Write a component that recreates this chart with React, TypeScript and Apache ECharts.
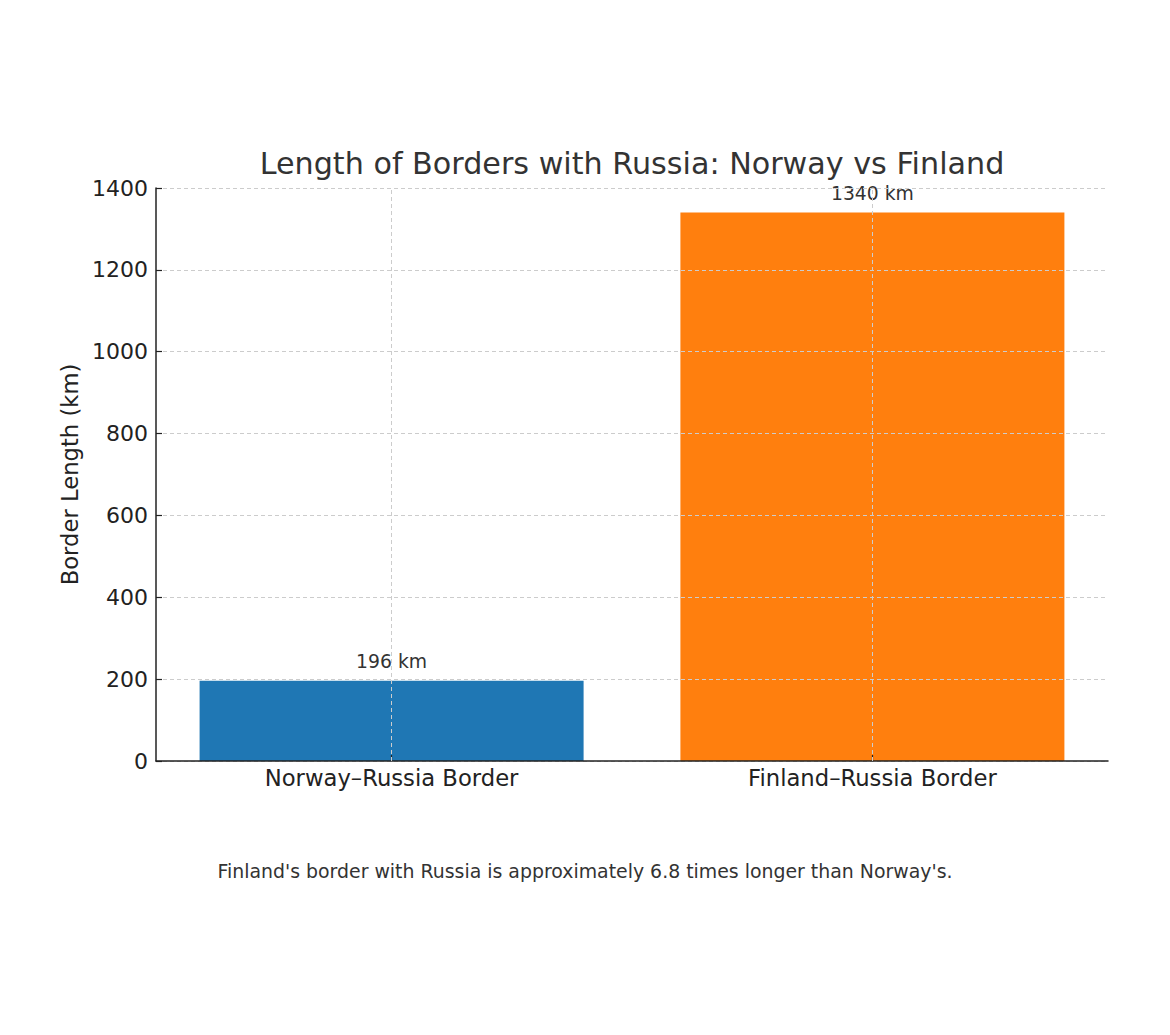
import React, { useEffect, useRef } from "react";
import * as echarts from "echarts";

const categories = ["Norway–Russia Border", "Finland–Russia Border"];
const categoryPositions = [0, 1];
const borderLengths = [196, 1340];
const barColors = ["#1f77b4", "#ff7f0e"];
const yTicks = [0, 200, 400, 600, 800, 1000, 1200, 1400];
const titleText = "Length of Borders with Russia: Norway vs Finland";
const yAxisName = "Border Length (km)";
const footnote = "Finland's border with Russia is approximately 6.8 times longer than Norway's.";

const FONT = "DejaVu Sans";

export default function App() {
  const ref = useRef<HTMLDivElement>(null);
  useEffect(() => {
    document.body.style.margin = "0";
    const chart = echarts.init(ref.current!, null, { renderer: "svg" });
    const grid = "#cccccc";
    chart.setOption({
      animation: false,
      backgroundColor: "#ffffff",
      textStyle: { fontFamily: FONT },
      title: {
        text: titleText,
        left: 632,
        top: 148,
        textAlign: "center",
        padding: 0,
        textStyle: { fontFamily: FONT, fontSize: 30.2, fontWeight: "normal", color: "#333333" },
      },
      grid: { left: 156, right: 62, top: 188, bottom: 274, containLabel: false },
      xAxis: {
        type: "value",
        min: -0.49,
        max: 1.49,
        z: 3,
        axisLine: { show: true, onZero: false, lineStyle: { color: "#222222", width: 1.5 } },
        axisTick: {
          show: true,
          inside: true,
          length: 6,
          customValues: categoryPositions,
          lineStyle: { color: "#222222", width: 1.2 },
        },
        axisLabel: {
          fontFamily: FONT,
          fontSize: 22.7,
          color: "#222222",
          margin: 5,
          customValues: categoryPositions,
          formatter: (v: number) => categories[Math.round(v)] ?? "",
        },
        splitLine: { show: false },
      },
      yAxis: {
        type: "value",
        min: 0,
        max: yTicks[yTicks.length - 1],
        interval: 200,
        z: 3,
        name: yAxisName,
        nameLocation: "middle",
        nameGap: 70,
        nameTextStyle: { fontFamily: FONT, fontSize: 22.7, color: "#222222" },
        axisLine: { show: true, onZero: false, lineStyle: { color: "#222222", width: 1.5 } },
        axisTick: { show: true, inside: true, length: 6, lineStyle: { color: "#222222", width: 1.2 } },
        axisLabel: {
          fontFamily: FONT,
          fontSize: 22,
          color: "#222222",
          margin: 8,
          formatter: (v: number) => String(v),
        },
        splitLine: { show: true, lineStyle: { color: grid, type: [4, 3], width: 1 } },
      },
      series: [
        {
          type: "bar",
          barWidth: 384,
          data: borderLengths.map((v, i) => ({
            value: [categoryPositions[i], v],
            itemStyle: { color: barColors[i] },
          })),
          label: {
            show: true,
            position: "top",
            distance: 10,
            formatter: (p: any) => `${p.value[1]} km`,
            fontFamily: FONT,
            fontSize: 18.8,
            color: "#333333",
          },
          markLine: {
            silent: true,
            symbol: "none",
            label: { show: false },
            lineStyle: { color: grid, type: [4, 3], width: 1 },
            data: categoryPositions.map((c) => ({ xAxis: c })),
            z: 5,
          },
        },
      ],
      graphic: [
        {
          type: "text",
          x: 585,
          y: 871,
          style: {
            text: footnote,
            fontFamily: FONT,
            fontSize: 18.9,
            fill: "#333333",
            textAlign: "center",
            textVerticalAlign: "middle",
          },
        },
      ],
    });
    return () => chart.dispose();
  }, []);
  return <div ref={ref} style={{ width: 1170, height: 1035 }} />;
}
